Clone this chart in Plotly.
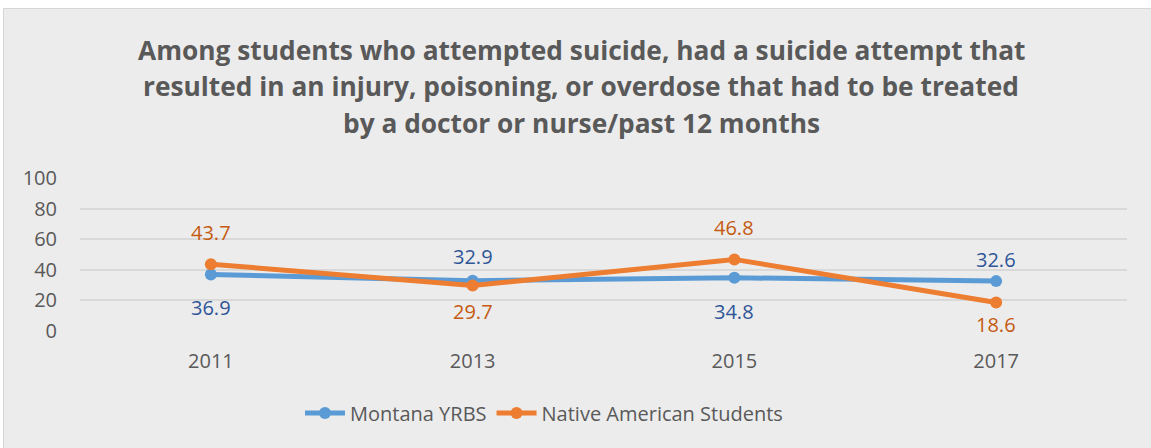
import plotly.graph_objects as go

years = ["2011", "2013", "2015", "2017"]
montana = [36.9, 32.9, 34.8, 32.6]
native = [43.7, 29.7, 46.8, 18.6]
y_ticks = [0, 20, 40, 60, 80, 100]

title_lines = [
    "Among students who attempted suicide, had a suicide attempt that",
    "resulted in an injury, poisoning, or overdose that had to be treated",
    "by a doctor or nurse/past 12 months",
]

# label offsets (pixels, positive = above the point), styling only
montana_dy = [-33, 24, -34, 22]
native_dy = [32, -26, 32, -22]

W, H = 1151, 448
ML, MR, MT, MB = 80, 24, 178, 117
FONT = "Open Sans"
TXT = "#595959"

xs = list(range(len(years)))

fig = go.Figure()
fig.add_trace(go.Scatter(
    x=xs, y=montana, name="Montana YRBS", mode="lines+markers",
    line=dict(color="#5B9BD5", width=5), marker=dict(size=12, color="#5B9BD5"),
))
fig.add_trace(go.Scatter(
    x=xs, y=native, name="Native American Students", mode="lines+markers",
    line=dict(color="#ED7D31", width=5), marker=dict(size=12, color="#ED7D31"),
))

for vals, dys, col in ((montana, montana_dy, "#2F5597"), (native, native_dy, "#C55A11")):
    for x, v, dy in zip(xs, vals, dys):
        fig.add_annotation(x=x, y=v, xref="x", yref="y", text=f"{v:.1f}",
                           showarrow=False, yshift=dy, yanchor="middle",
                           font=dict(family=FONT, size=20, color=col))

pw = W - ML - MR
ph = H - MT - MB
def px2x(p):
    return (p - ML) / pw
def px2y(p):
    return (H - MB - p) / ph

for line, yc in zip(title_lines, [49.5, 86.5, 122.5]):
    fig.add_annotation(x=px2x(581), y=px2y(yc), xref="paper", yref="paper", text=f"<b>{line}</b>",
                       showarrow=False, xanchor="center", yanchor="middle",
                       font=dict(family=FONT, size=26.3, color=TXT))

fig.add_shape(type="rect", xref="paper", yref="paper",
              x0=px2x(3.5), x1=px2x(W + 20), y0=px2y(H + 20), y1=px2y(8.5),
              fillcolor="#ECECEC", line=dict(color="#D6D6D6", width=1), layer="below")

fig.update_layout(
    width=W, height=H,
    margin=dict(l=ML, r=MR, t=MT, b=MB, pad=0, autoexpand=False),
    paper_bgcolor="white", plot_bgcolor="rgba(0,0,0,0)",
    font=dict(family=FONT, size=20, color=TXT),
    xaxis=dict(range=[-0.5, 3.5], tickvals=xs, ticktext=years, showgrid=False,
               zeroline=False, showline=False, ticks="", ticklabelstandoff=16,
               tickfont=dict(family=FONT, size=20, color=TXT)),
    yaxis=dict(range=[0, 100], tickvals=y_ticks, showgrid=True, gridcolor="#D9D9D9",
               gridwidth=1.5, zeroline=False, showline=False, ticks="",
               ticklabelstandoff=22,
               tickfont=dict(family=FONT, size=20, color=TXT)),
    legend=dict(orientation="h", x=px2x(544), xanchor="center", xref="paper",
                y=px2y(413), yanchor="middle",
                font=dict(family=FONT, size=20, color=TXT),
                bgcolor="rgba(0,0,0,0)", itemwidth=40),
    showlegend=True,
)

fig.write_html("out.html", config={"displayModeBar": False},
               post_script="document.body.style.margin='0';")
